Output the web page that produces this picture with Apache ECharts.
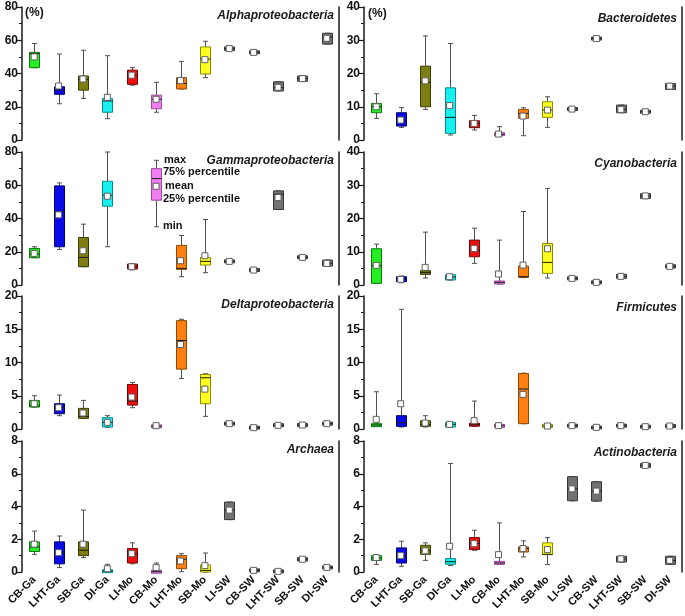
<!DOCTYPE html>
<html><head><meta charset="utf-8">
<script src="https://cdn.jsdelivr.net/npm/echarts@6/dist/echarts.min.js"></script>
<style>html,body{margin:0;padding:0;background:#fff}#c{width:685px;height:616px}</style>
</head><body><div id="c"></div>
<script>
const categories = ['CB-Ga','LHT-Ga','SB-Ga','DI-Ga','LI-Mo','CB-Mo','LHT-Mo','SB-Mo','LI-SW','CB-SW','LHT-SW','SB-SW','DI-SW'];
// each entry: [min, q1, median, q3, max, mean]
const alpha = [
  [43.5,43.5,52,52.7,58,50],[21.8,27.5,30,32,51.7,32.5],[25,30,36.5,38.5,54,36.7],[12.8,16.7,23.5,25,50.7,25.7],
  [33,33.5,39,42,43.5,39],[16.7,18.8,24.5,27,34.7,24.5],[30.7,30.7,34,37.5,47.3,35.7],[37.5,39.7,48.7,56,59.4,48.3],
  [53.8,53.8,55,56,56,55],[52,52,52.7,53.5,53.5,52.7],[29.5,29.5,31.5,35,35,31.7],[35.3,35.3,37,38.5,38.5,36.9],[57.7,57.7,62,64.2,64.2,61.2]
];
const bacteroidetes = [
  [6.5,8.2,10,11,13.9,10],[3.8,4.2,6,8.2,9.75,6],[9.2,10,17.3,22.2,31.3,17.8],[1.5,2,6.8,15.7,29,10.4],
  [3,3.7,5,5.8,7.4,5],[1.2,1.3,1.7,2.2,4,1.8],[1.3,6.5,8,9.2,9.7,7.2],[3.8,6.8,9,11.5,13,9],
  [9,9,9.3,9.6,9.6,9.3],[30.2,30.2,30.5,30.8,30.8,30.5],[8.2,8.2,9.2,10.5,10.5,9.2],[8.2,8.2,8.5,8.8,8.8,8.5],[15.2,15.2,16.2,17,17,16.2]
];
const gamma = [
  [16.4,16.4,18.6,22,23,19],[21.4,23,44,59.6,61.4,42.2],[11,11,16.6,28.6,36.6,20.6],[23,47.4,54,62.4,80,53.4],
  [9.2,9.6,11,12.6,12.6,11],[35,51,64,70,75,59.4],[5,9.4,10,23.8,29.8,14.6],[7.4,12,14.2,16.6,39.4,17.6],
  [13.6,13.6,14.2,14.8,14.8,14.2],[8.6,8.6,9,9.4,9.4,9],[45.4,45.4,54.6,56.6,56.6,52.6],[16.2,16.2,16.6,17.2,17.2,16.6],[11.4,11.4,13,15,15,13]
];
const cyanobacteria = [
  [0.5,0.5,5.8,10.9,12.3,5.9],[0.7,1,1.7,2.5,2.7,1.7],[2.1,3.2,3.8,4.3,15.9,5.3],[1.5,1.5,2.4,3.1,3.1,2.5],
  [6.5,8.5,10.5,13.5,17.1,11],[0.3,0.4,0.8,1.1,13.5,3.3],[2.2,2.3,2.5,5.7,22.1,6],[2.1,3.5,6.8,12.5,29,10.9],
  [1.7,1.7,2,2.3,2.3,2],[0.6,0.6,0.8,1,1,0.8],[2,2,2.6,3.2,3.2,2.6],[26,26,26.8,27.5,27.5,26.8],[5.1,5.1,5.6,6.1,6.1,5.6]
];
const delta = [
  [3.3,3.3,3.5,4.3,5,3.8],[2,2.3,3.2,3.8,5.1,3.2],[1.6,1.6,1.9,3.1,4.3,2.4],[0.25,0.3,1,1.7,2,1],
  [3.2,3.6,4.2,6.7,7,4.8],[0.2,0.3,0.4,0.5,0.8,0.5],[7.6,9,13.3,16.3,16.5,12.7],[1.9,3.8,7.7,8.2,8.3,6],
  [0.65,0.65,0.8,0.95,0.95,0.8],[0.1,0.1,0.2,0.3,0.3,0.2],[0.45,0.45,0.55,0.7,0.7,0.55],[0.5,0.5,0.6,0.7,0.7,0.6],[0.65,0.65,0.8,0.95,0.95,0.8]
];
const firmicutes = [
  [0.45,0.45,0.6,0.7,5.6,1.45],[0.3,0.4,0.95,2,18,3.8],[0.3,0.4,0.65,1.25,2,0.9],[0.3,0.3,0.7,1,1,0.7],
  [0.4,0.5,0.65,0.8,4.2,1.25],[0.35,0.35,0.5,0.6,0.6,0.5],[0.8,0.8,6,8.35,8.4,5.2],[0.3,0.3,0.45,0.65,0.65,0.45],
  [0.4,0.4,0.5,0.6,0.6,0.5],[0.15,0.15,0.22,0.3,0.3,0.25],[0.4,0.4,0.5,0.6,0.6,0.5],[0.25,0.25,0.35,0.45,0.45,0.35],[0.35,0.35,0.45,0.55,0.55,0.45]
];
const archaea = [
  [1.08,1.25,1.53,1.84,2.5,1.7],[0.27,0.5,1.2,1.84,2.2,1.18],[0.88,1,1.33,1.84,3.78,1.7],[0,0,0.05,0.1,0.47,0.2],
  [0.5,0.55,1.1,1.43,1.78,1.12],[0,0,0.02,0.03,0.55,0.27],[0.02,0.2,0.78,1,1.12,0.67],[0,0,0.1,0.43,1.16,0.39],
  [3.2,3.2,3.78,4.27,4.27,3.78],[0.05,0.05,0.1,0.15,0.15,0.1],[0,0,0.04,0.08,0.08,0.04],[0.67,0.67,0.78,0.88,0.88,0.78],[0.22,0.22,0.28,0.33,0.33,0.28]
];
const actinobacteria = [
  [0.47,0.71,0.85,1,1.04,0.88],[0.35,0.55,1,1.47,1.88,1],[0.71,1.08,1.3,1.63,1.78,1.29],[0.39,0.47,0.63,0.82,6.63,1.57],
  [1.33,1.37,1.75,2.1,2.55,1.73],[0.47,0.47,0.55,0.65,3,1.06],[0.92,1.22,1.43,1.53,1.9,1.43],[0.45,1.06,1.08,1.78,2.1,1.37],
  [4.35,4.35,5.08,5.82,5.82,5.08],[4.33,4.33,4.94,5.51,5.51,4.94],[0.61,0.61,0.8,0.96,0.96,0.8],[6.39,6.39,6.51,6.63,6.63,6.51],[0.47,0.47,0.71,0.96,0.96,0.71]
];
const panelData = [alpha, bacteroidetes, gamma, cyanobacteria, delta, firmicutes, archaea, actinobacteria];
const panelNames = ['Alphaproteobacteria','Bacteroidetes','Gammaproteobacteria','Cyanobacteria','Deltaproteobacteria','Firmicutes','Archaea','Actinobacteria'];
const yMax = [80,40,80,40,20,20,8,8];
const yInterval = [20,10,20,10,5,5,2,2];
const legendLabels = ['max','75% percentile','mean','25% percentile','min'];

const fills = ['#22f022','#0a0ae6','#7d7d12','#18f0f0','#ee1010','#f07ef0','#ff8010','#ffff20','#727272','#727272','#727272','#727272','#727272'];
const borders = ['#0b7a0b','#000070','#3c3c00','#0a8a8a','#7a0000','#9a4a9a','#8a4a00','#8a8a00','#383838','#383838','#383838','#383838','#383838'];

const FONT = '"Liberation Sans", Arial, sans-serif';
const colLeft = [22, 364], colWidth = [317, 318];
const rowTop = [7, 152, 296, 441], rowH = [133, 133, 133, 131];

function renderItem(params, api) {
  const i = api.value(0);
  const mn = api.coord([i, api.value(1)]);
  const q1 = api.coord([i, api.value(2)]);
  const md = api.coord([i, api.value(3)]);
  const q3 = api.coord([i, api.value(4)]);
  const mx = api.coord([i, api.value(5)]);
  const mean = api.coord([i, api.value(6)]);
  const x = Math.round(mn[0]) + 0.5;
  const bw = 10, cw = 5, ms = 6;
  let top = q3[1], bot = q1[1];
  if (bot - top < 3) { const c = (top + bot) / 2; top = c - 1.5; bot = c + 1.5; }
  const wc = '#505050';
  return {type: 'group', children: [
    {type: 'line', shape: {x1: x, y1: mx[1], x2: x, y2: top}, style: {stroke: wc, lineWidth: 1}},
    {type: 'line', shape: {x1: x, y1: bot, x2: x, y2: mn[1]}, style: {stroke: wc, lineWidth: 1}},
    {type: 'line', shape: {x1: x - cw / 2, y1: mx[1], x2: x + cw / 2, y2: mx[1]}, style: {stroke: wc, lineWidth: 1}},
    {type: 'line', shape: {x1: x - cw / 2, y1: mn[1], x2: x + cw / 2, y2: mn[1]}, style: {stroke: wc, lineWidth: 1}},
    {type: 'rect', shape: {x: x - bw / 2, y: top, width: bw, height: bot - top}, style: {fill: fills[i], stroke: borders[i], lineWidth: 1}},
    {type: 'line', shape: {x1: x - bw / 2, y1: md[1], x2: x + bw / 2, y2: md[1]}, style: {stroke: '#1a1a1a', lineWidth: 1}},
    {type: 'rect', shape: {x: mean[0] - ms / 2, y: mean[1] - ms / 2, width: ms, height: ms}, style: {fill: '#ffffff', stroke: '#606060', lineWidth: 1}}
  ]};
}

const grid = [], xAxis = [], yAxis = [], series = [], graphic = [];
for (let p = 0; p < 8; p++) {
  const col = p % 2, row = Math.floor(p / 2);
  grid.push({left: colLeft[col], top: rowTop[row], width: colWidth[col], height: rowH[row]});
  xAxis.push({
    gridIndex: p, type: 'category', data: categories, boundaryGap: true,
    axisLine: {show: false}, axisTick: {show: false}, splitLine: {show: false},
    axisLabel: {show: row === 3, interval: 0, rotate: 45, margin: 6, fontFamily: FONT, fontWeight: 'bold', fontSize: 11, color: '#111'}
  });
  yAxis.push({
    gridIndex: p, type: 'value', min: 0, max: yMax[p], interval: yInterval[p],
    axisLine: {show: true, lineStyle: {color: '#1a1a1a', width: 1.5}},
    axisTick: {show: true, length: 5, lineStyle: {color: '#1a1a1a', width: 1.2}},
    minorTick: {show: true, splitNumber: 2, length: 3, lineStyle: {color: '#1a1a1a', width: 1}},
    splitLine: {show: false},
    axisLabel: {margin: 4, fontFamily: FONT, fontWeight: 'bold', fontSize: 12, color: '#111'}
  });
  yAxis.push({
    gridIndex: p, type: 'value', min: 0, max: yMax[p], position: 'right',
    axisLine: {show: true, lineStyle: {color: '#1a1a1a', width: 1.5}},
    axisTick: {show: false}, axisLabel: {show: false}, splitLine: {show: false}
  });
  series.push({
    type: 'custom', xAxisIndex: p, yAxisIndex: 2 * p, renderItem: renderItem,
    encode: {x: 0, y: [1, 2, 3, 4, 5, 6]},
    data: panelData[p].map((d, i) => [i].concat(d)),
    clip: false, silent: true
  });
  graphic.push({
    type: 'text', x: col === 0 ? 334 : 677, y: rowTop[row] + (col === 0 ? 9 : 12),
    style: {text: panelNames[p], align: 'right', verticalAlign: 'middle', font: 'italic bold 12px ' + FONT, fill: '#1a1a1a'}
  });
}
graphic.push({type: 'text', x: 25, y: 13, style: {text: '(%)', verticalAlign: 'middle', font: 'bold 12px ' + FONT, fill: '#111'}});
graphic.push({type: 'text', x: 368, y: 14, style: {text: '(%)', verticalAlign: 'middle', font: 'bold 12px ' + FONT, fill: '#111'}});
const legY = [160, 172, 186, 199, 226], legX = [164, 163, 165, 163, 163];
legendLabels.forEach((t, k) => graphic.push({type: 'text', x: legX[k], y: legY[k],
  style: {text: t, verticalAlign: 'middle', font: 'bold 11px ' + FONT, fill: '#111'}}));

const chart = echarts.init(document.getElementById('c'), null, {renderer: 'canvas'});
chart.setOption({animation: false, backgroundColor: '#fff', grid, xAxis, yAxis, series, graphic});
</script></body></html>
